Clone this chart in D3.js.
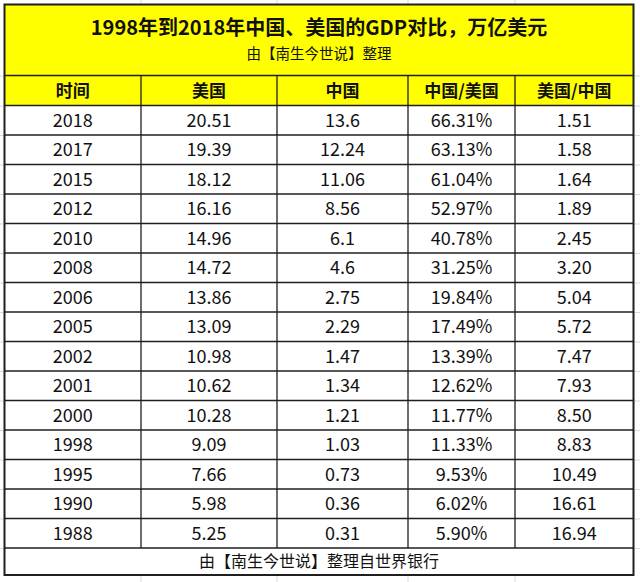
<!DOCTYPE html>
<html>
<head>
<meta charset="utf-8">
<script src="https://cdn.jsdelivr.net/npm/d3@7"></script>
<style>
  html, body { margin: 0; padding: 0; background: #fff; }
  svg { display: block; }
  text { font-family: "Noto Sans CJK SC", "Noto Sans", sans-serif; fill: #111; }
</style>
</head>
<body>
<div class="container"></div>
<script>
// table data
const title = "1998年到2018年中国、美国的GDP对比，万亿美元";
const subtitle = "由【南生今世说】整理";
const footer = "由【南生今世说】整理自世界银行";
const headers = ["时间", "美国", "中国", "中国/美国", "美国/中国"];
const years = ["2018", "2017", "2015", "2012", "2010", "2008", "2006", "2005", "2002", "2001", "2000", "1998", "1995", "1990", "1988"];
const usGdp = ["20.51", "19.39", "18.12", "16.16", "14.96", "14.72", "13.86", "13.09", "10.98", "10.62", "10.28", "9.09", "7.66", "5.98", "5.25"];
const cnGdp = ["13.6", "12.24", "11.06", "8.56", "6.1", "4.6", "2.75", "2.29", "1.47", "1.34", "1.21", "1.03", "0.73", "0.36", "0.31"];
const cnOverUs = ["66.31%", "63.13%", "61.04%", "52.97%", "40.78%", "31.25%", "19.84%", "17.49%", "13.39%", "12.62%", "11.77%", "11.33%", "9.53%", "6.02%", "5.90%"];
const usOverCn = ["1.51", "1.58", "1.64", "1.89", "2.45", "3.20", "5.04", "5.72", "7.47", "7.93", "8.50", "8.83", "10.49", "16.61", "16.94"];

document.addEventListener("DOMContentLoaded", function () {
  const width = 640;
  const height = 582;
  const left = 4.5, right = 633.5;
  const top = 4.5;
  const titleH = 71;
  const headerH = 30;
  const rowH = 29.5;
  const footerH = 27;
  // column edges
  const colEdges = [left, 141, 277, 408, 515, right];

  const rows = years.map((y, i) => [y, usGdp[i], cnGdp[i], cnOverUs[i], usOverCn[i]]);

  const headerTop = top + titleH;
  const bodyTop = headerTop + headerH;
  const bodyBottom = bodyTop + rowH * rows.length;
  const footerBottom = bodyBottom + footerH;

  const yRow = d3.scaleBand()
    .domain(d3.range(rows.length))
    .range([bodyTop, bodyBottom]);

  const xCol = d3.scaleOrdinal()
    .domain(d3.range(headers.length))
    .range(d3.range(headers.length).map(i => (colEdges[i] + colEdges[i + 1]) / 2));

  const svg = d3.select(".container").append("svg")
    .attr("width", width)
    .attr("height", height);

  // spreadsheet gridlines outside the table
  const grid = svg.append("g").attr("stroke", "#d9d9d9").attr("stroke-width", 1);
  colEdges.slice(1, -1).forEach(x => {
    grid.append("line").attr("x1", x).attr("x2", x).attr("y1", 0).attr("y2", top);
    grid.append("line").attr("x1", x).attr("x2", x).attr("y1", footerBottom).attr("y2", height);
  });
  [headerTop, ...yRow.domain().map(i => yRow(i)), bodyBottom].forEach(y => {
    grid.append("line").attr("x1", right).attr("x2", width).attr("y1", y + 0.5).attr("y2", y + 0.5);
    grid.append("line").attr("x1", 0).attr("x2", left).attr("y1", y + 0.5).attr("y2", y + 0.5);
  });

  // yellow title + header
  svg.append("rect")
    .attr("x", left).attr("y", top)
    .attr("width", right - left).attr("height", titleH + headerH)
    .attr("fill", "#ffff00");

  svg.append("text")
    .attr("x", (left + right) / 2).attr("y", top + 30)
    .attr("text-anchor", "middle")
    .attr("font-size", 20).attr("font-weight", "bold")
    .text(title);

  svg.append("text")
    .attr("x", (left + right) / 2).attr("y", top + 54)
    .attr("text-anchor", "middle")
    .attr("font-size", 14.5)
    .text(subtitle);

  svg.append("g").selectAll("text")
    .data(headers)
    .join("text")
    .attr("x", (d, i) => xCol(i))
    .attr("y", headerTop + headerH / 2 + 6)
    .attr("text-anchor", "middle")
    .attr("font-size", 17).attr("font-weight", "bold")
    .text(d => d);

  // body cells
  const body = svg.append("g");
  rows.forEach((r, i) => {
    body.selectAll(null)
      .data(r)
      .join("text")
      .attr("x", (d, j) => xCol(j))
      .attr("y", yRow(i) + yRow.bandwidth() / 2 + 6.5)
      .attr("text-anchor", "middle")
      .attr("font-size", 18)
      .attr("fill", "#1a1a1a")
      .text(d => d);
  });

  svg.append("text")
    .attr("x", (left + right) / 2).attr("y", bodyBottom + footerH / 2 + 5.5)
    .attr("text-anchor", "middle")
    .attr("font-size", 16)
    .text(footer);

  // cell borders
  const lines = svg.append("g").attr("stroke", "#1f1f1f").attr("stroke-width", 1.3);
  [headerTop, bodyTop, ...yRow.domain().slice(1).map(i => yRow(i)), bodyBottom].forEach(y => {
    lines.append("line").attr("x1", left).attr("x2", right).attr("y1", y).attr("y2", y);
  });
  colEdges.slice(1, -1).forEach(x => {
    lines.append("line").attr("x1", x).attr("x2", x).attr("y1", headerTop).attr("y2", bodyBottom);
  });

  // outer border
  svg.append("rect")
    .attr("x", left).attr("y", top)
    .attr("width", right - left).attr("height", footerBottom - top)
    .attr("fill", "none")
    .attr("stroke", "#1f1f1f")
    .attr("stroke-width", 2);
});
</script>
</body>
</html>
